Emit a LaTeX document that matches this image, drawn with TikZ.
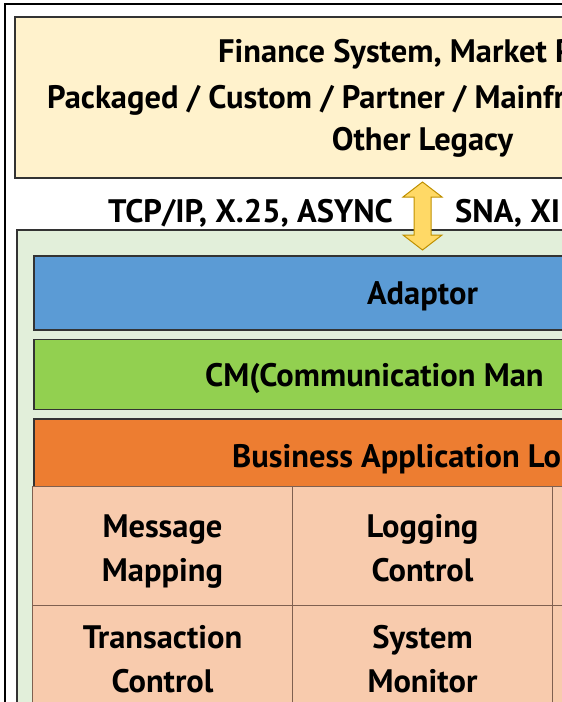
\documentclass[tikz,border=0pt]{standalone}
\usepackage{fontspec}
\setmainfont{PT Sans}
\usetikzlibrary{positioning}

\definecolor{legacyfill}{HTML}{FFF2CC}
\definecolor{hubfill}{HTML}{E2EFDA}
\definecolor{adaptorfill}{HTML}{5B9BD5}
\definecolor{cmfill}{HTML}{92D050}
\definecolor{bizfill}{HTML}{ED7D31}
\definecolor{cellfill}{HTML}{F8CBAD}
\definecolor{celline}{HTML}{7F6050}
\definecolor{arrowfill}{HTML}{FFD966}
\definecolor{arrowline}{HTML}{BF9000}

\tikzset{
  layer/.style={draw=black!80, line width=1.5pt, inner sep=0, anchor=north west},
  bigtext/.style={font=\bfseries\fontsize{32.5}{44}\selectfont, inner sep=0, align=center},
  cell/.style={draw=celline, line width=1.5pt, fill=cellfill, inner sep=0,
    minimum width=260pt, minimum height=119pt},
  linkarrow/.style={draw=arrowline, line width=1pt, fill=arrowfill, line join=miter}
}

\begin{document}
\begin{tikzpicture}[x=1pt,y=-1pt]
\useasboundingbox (0,0) rectangle (562,702);
\clip (0,0) rectangle (562,702);
\draw[line width=2.5pt] (5,4) rectangle (850,760);

% legacy systems
\node[layer, fill=legacyfill, minimum width=817pt, minimum height=161pt] (legacy) at (14,16) {};
\node[bigtext, anchor=base west] (legacy-1) at (218,62) {Finance System, Market P};
\node[bigtext, anchor=base west] (legacy-2) at (47,108) {Packaged / Custom / Partner / Mainfr};
\node[bigtext, anchor=base] (legacy-3) at (422.5,150) {Other Legacy};

% hub and its layers
\node[layer, fill=hubfill, minimum width=813pt, minimum height=540pt] (hub) at (16,229) {};
\node[layer, fill=adaptorfill, minimum width=779pt, minimum height=74pt] (adaptor) at (33,255) {};
\node[layer, fill=cmfill, minimum width=779pt, minimum height=70pt, below=8pt of adaptor.south west, anchor=north west] (cm) {};
\node[layer, fill=bizfill, minimum width=779pt, minimum height=71pt, below=8pt of cm.south west, anchor=north west] (biz) {};
\node[bigtext, anchor=base] (adaptor-label) at (422.5,304) {Adaptor};
\node[bigtext, anchor=base west] (cm-label) at (205,386) {CM(Communication Man};
\node[bigtext, anchor=base west] (biz-label) at (232,467) {Business Application Lo};

% protocols
\coordinate (link) at (422.5,216);
\draw[linkarrow] (link) ++(0,-34) -- ++(19.5,15) -- ++(-11,0) -- ++(0,38) -- ++(11,0)
  -- ++(-19.5,15) -- ++(-19.5,-15) -- ++(11,0) -- ++(0,-38) -- ++(-11,0) -- cycle;
\node[bigtext, anchor=base east] (proto-left) at (393,222) {TCP/IP, X.25, ASYNC};
\node[bigtext, anchor=base west] (proto-right) at (455,222) {SNA, XI};

% function cells
\foreach \col/\row/\dy/\txt in {0/0/-6/{Message\\Mapping}, 1/0/-2/{Logging\\Control}, 2/0/0/{},
                                0/1/6/{Transaction\\Control}, 1/1/6/{System\\Monitor}, 2/1/0/{}} {
  \node[cell] (cell-\col-\row) at (162.5+260*\col, 546+119*\row) {};
  \node[bigtext, yshift=\dy] (cell-\col-\row-text) at (cell-\col-\row.center) {\txt};
}
\end{tikzpicture}
\end{document}
